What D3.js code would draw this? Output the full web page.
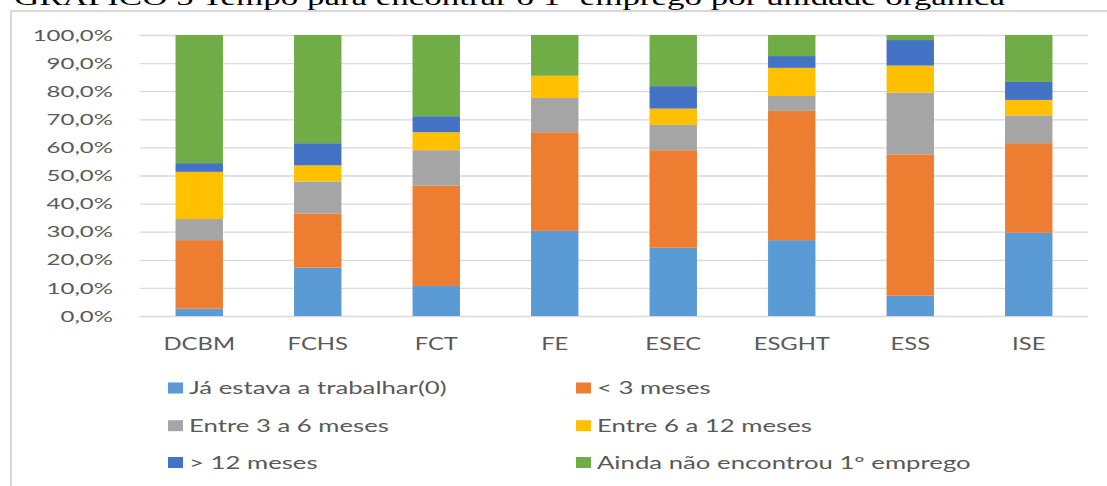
<!DOCTYPE html>
<html>
<head>
<meta charset="utf-8">
<script src="https://cdn.jsdelivr.net/npm/d3@7"></script>
<style>
  body { margin: 0; background: #fff; }
  text { font-family: Lato, "Open Sans", sans-serif; }
</style>
</head>
<body>
<div id="chart"></div>
<script>
const svgWidth = 1107;
const svgHeight = 486;

// values (percent)
const categories = ["DCBM", "FCHS", "FCT", "FE", "ESEC", "ESGHT", "ESS", "ISE"];
const jaTrabalhar = [2.6, 17.2, 10.7, 30.3, 24.3, 27.0, 7.2, 29.6];
const menos3 = [24.4, 19.3, 35.7, 35.1, 34.7, 46.0, 50.3, 31.9];
const entre3e6 = [7.5, 11.4, 12.6, 12.2, 9.0, 5.3, 22.0, 9.9];
const entre6e12 = [16.8, 5.7, 6.4, 7.9, 5.8, 10.0, 9.6, 5.5];
const mais12 = [3.1, 7.9, 5.7, 0, 8.0, 4.2, 9.1, 6.4];
const aindaNao = [45.6, 38.5, 28.9, 14.5, 18.2, 7.5, 1.8, 16.7];

const seriesNames = ["Já estava a trabalhar(0)", "< 3 meses", "Entre 3 a 6 meses",
    "Entre 6 a 12 meses", "> 12 meses", "Ainda não encontrou 1º emprego"];
const seriesValues = [jaTrabalhar, menos3, entre3e6, entre6e12, mais12, aindaNao];
const colors = ["#5B9BD5", "#ED7D31", "#A5A5A5", "#FFC000", "#4472C4", "#70AD47"];
const yTicks = [0, 10, 20, 30, 40, 50, 60, 70, 80, 90, 100];

const titleText = "GRÁFICO 5 Tempo para encontrar o 1º emprego por unidade orgânica";

const margin = { top: 35, right: 19, bottom: 170, left: 140 };
const width = svgWidth - margin.left - margin.right;
const height = 316 - margin.top;

// the picture is squeezed wide, so text gets stretched sideways
function stretch(sel, k) {
    sel.each(function() {
        const w = this.getComputedTextLength();
        d3.select(this).attr("textLength", w * k).attr("lengthAdjust", "spacingAndGlyphs");
    });
}

const table = categories.map((c, i) => {
    const row = { cat: c };
    seriesNames.forEach((s, j) => row[s] = seriesValues[j][i]);
    return row;
});

const stacked = d3.stack().keys(seriesNames)(table);

const svg = d3.select("#chart").append("svg")
    .attr("width", svgWidth)
    .attr("height", svgHeight);

// frame of the chart object (runs off the right and bottom)
svg.append("rect")
    .attr("x", 11).attr("y", 11)
    .attr("width", 1120).attr("height", 500)
    .attr("fill", "none")
    .attr("stroke", "#d9d9d9")
    .attr("stroke-width", 2);

// title, mostly cut off at the top like in the scan
svg.append("text")
    .attr("x", 14).attr("y", 5)
    .style("font-family", "'Liberation Serif', 'DejaVu Serif', serif")
    .attr("font-size", 24)
    .attr("fill", "#000")
    .attr("textLength", 991)
    .attr("lengthAdjust", "spacingAndGlyphs")
    .text(titleText);

const x = d3.scaleBand()
    .domain(categories)
    .range([0, width])
    .paddingInner(0.6)
    .paddingOuter(0.3);

const y = d3.scaleLinear()
    .domain([0, 100])
    .range([height, 0]);

const chartGroup = svg.append("g")
    .attr("transform", `translate(${margin.left}, ${margin.top})`);

// gridlines
chartGroup.append("g")
    .call(d3.axisLeft(y).tickValues(yTicks).tickSize(-width).tickFormat(""))
    .call(g => g.select(".domain").remove())
    .call(g => g.selectAll("line").attr("stroke", "#d9d9d9").attr("stroke-width", 1.3));

// y labels
const yAxis = chartGroup.append("g")
    .call(d3.axisLeft(y).tickValues(yTicks).tickSize(0).tickPadding(27)
        .tickFormat(d => d.toFixed(1).replace(".", ",") + "%"))
    .call(g => g.select(".domain").remove());
yAxis.selectAll("text")
    .attr("font-size", 16)
    .attr("fill", "#595959");

// x labels
const xAxis = chartGroup.append("g")
    .attr("transform", `translate(0, ${height})`)
    .call(d3.axisBottom(x).tickSize(0))
    .call(g => g.select(".domain").remove());
xAxis.selectAll("text")
    .attr("y", 34)
    .attr("dy", null)
    .attr("font-size", 17)
    .attr("fill", "#595959");

// bars
chartGroup.selectAll(".series")
    .data(stacked)
    .enter()
    .append("g")
    .attr("class", "series")
    .attr("fill", (d, i) => colors[i])
    .selectAll("rect")
    .data(d => d)
    .enter()
    .append("rect")
    .attr("x", d => x(d.data.cat))
    .attr("y", d => y(d[1]))
    .attr("height", d => y(d[0]) - y(d[1]))
    .attr("width", x.bandwidth());

// legend, two columns by three rows
const legendCols = [168, 576];
const legendRows = [388, 425.7, 462.5];

const legend = svg.append("g")
    .selectAll("g")
    .data(seriesNames)
    .enter()
    .append("g")
    .attr("transform", (d, i) => `translate(${legendCols[i % 2]}, ${legendRows[Math.floor(i / 2)]})`);

legend.append("rect")
    .attr("x", 0).attr("y", -5.5)
    .attr("width", 15).attr("height", 11)
    .attr("fill", (d, i) => colors[i]);

legend.append("text")
    .attr("x", 21)
    .attr("y", 6)
    .attr("font-size", 16.5)
    .attr("fill", "#595959")
    .text(d => d);

stretch(yAxis.selectAll("text"), 1.5);
stretch(xAxis.selectAll("text"), 1.4);
stretch(legend.selectAll("text"), 1.56);
</script>
</body>
</html>
